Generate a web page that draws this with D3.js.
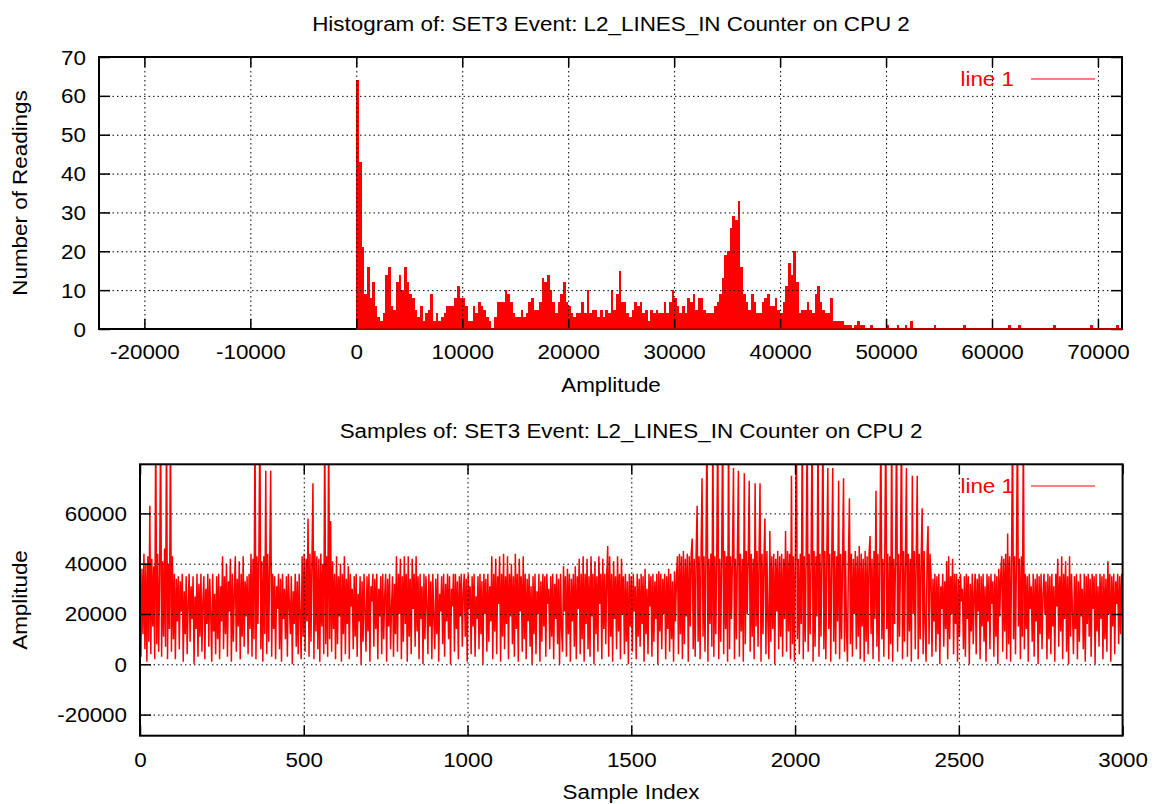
<!DOCTYPE html>
<html lang="en">
<head>
<meta charset="UTF-8">
<title>SET3 Event: L2_LINES_IN Counter on CPU 2</title>
<script src="https://cdnjs.cloudflare.com/ajax/libs/d3/7.8.5/d3.min.js"></script>
<style>
    body { margin: 0; background: #fff; }
    svg { display: block; font-family: "Liberation Sans", Arial, Helvetica, sans-serif; }
</style>
</head>
<body>
<div id="chart"></div>
<script>
// ---- histogram data: counts per 250-wide amplitude bin, starting at 0 ----
const histBinWidth = 250;
const histCounts = [
    64, 43, 21, 9, 16, 8, 12, 6, 3, 2,
    4, 14, 16, 6, 5, 12, 14, 10, 16, 12,
    9, 8, 5, 3, 6, 2, 4, 5, 9, 2,
    4, 2, 3, 4, 6, 6, 6, 8, 11, 8,
    8, 6, 2, 2, 6, 4, 7, 6, 5, 3,
    2, 0, 3, 7, 7, 7, 10, 9, 7, 4,
    3, 3, 5, 3, 4, 7, 8, 5, 5, 7,
    13, 12, 14, 10, 7, 4, 7, 9, 12, 7,
    6, 4, 3, 4, 4, 7, 4, 10, 4, 5,
    5, 3, 5, 3, 5, 4, 10, 5, 9, 15,
    7, 7, 4, 3, 5, 7, 6, 7, 4, 5,
    2, 5, 4, 5, 4, 4, 7, 4, 7, 10,
    8, 6, 4, 6, 4, 8, 7, 9, 5, 8,
    8, 5, 4, 4, 4, 6, 7, 9, 13, 19,
    20, 26, 29, 28, 33, 16, 9, 7, 5, 9,
    7, 4, 4, 7, 8, 9, 6, 6, 8, 5,
    4, 7, 11, 17, 14, 20, 12, 4, 5, 5,
    7, 5, 4, 9, 11, 7, 5, 4, 4, 8,
    2, 2, 2, 2, 1
];
// sparse bins in the tail (bin index, count)
const tailBins   = [185, 186, 188, 189, 190, 191, 194, 200, 204, 207, 209, 218, 229, 246, 250, 263, 277, 287];
const tailCounts = [1, 1, 1, 2, 1, 1, 1, 1, 1, 1, 2, 1, 1, 1, 1, 1, 1, 1];
const histLastBin = 288;

// ---- samples: one reading every 3 sample indices (0..2997), in thousands ----
const sampleStep = 3;
const sampleUnit = 1000;
const samplesK = [
    41, 3, 38, 12, 44, 6, 40, 1, 43, 9,
    63, 4, 42, 15, 39, 2, 98, 8, 44, 5,
    36, 98, 3, 41, 11, 46, 7, 98, 2, 40,
    14, 98, 5, 43, 10, 36, 2, 34, 17, 35,
    6, 33, 21, 36, 1, 29, 12, 35, 4, 24,
    36, 9, 31, 18, 35, 0, 27, 14, 36, 3,
    32, 11, 36, 5, 25, 35, 2, 30, 16, 36,
    7, 34, 20, 1, 36, 13, 28, 4, 35, 10,
    36, 2, 31, 17, 43, 6, 35, 12, 40, 3,
    33, 21, 42, 1, 36, 9, 29, 43, 5, 34,
    15, 41, 2, 36, 11, 43, 7, 33, 19, 35,
    4, 36, 14, 44, 3, 42, 10, 98, 2, 43,
    16, 44, 98, 6, 41, 1, 43, 12, 77, 4,
    44, 9, 40, 77, 3, 36, 14, 35, 2, 31,
    22, 36, 6, 34, 1, 36, 18, 30, 10, 35,
    3, 36, 24, 12, 35, 0, 29, 16, 36, 7,
    33, 4, 36, 20, 2, 43, 11, 44, 5, 42,
    17, 58, 3, 44, 9, 41, 72, 2, 45, 13,
    43, 6, 42, 1, 44, 15, 40, 4, 98, 8,
    43, 3, 98, 10, 57, 5, 41, 14, 36, 2,
    43, 8, 35, 19, 40, 1, 36, 12, 43, 4,
    34, 16, 39, 2, 36, 23, 30, 6, 35, 11,
    36, 3, 28, 17, 35, 0, 33, 9, 36, 21,
    5, 35, 13, 36, 1, 31, 25, 36, 7, 34,
    14, 36, 2, 30, 19, 35, 4, 36, 10, 27,
    36, 1, 34, 15, 36, 6, 23, 35, 3, 32,
    12, 43, 5, 36, 20, 42, 2, 35, 9, 43,
    16, 36, 1, 43, 11, 34, 4, 42, 22, 36,
    7, 43, 13, 35, 2, 36, 18, 31, 0, 36,
    10, 35, 24, 4, 36, 15, 33, 2, 36, 19,
    6, 34, 12, 36, 1, 28, 21, 35, 8, 36,
    3, 32, 17, 36, 10, 35, 0, 30, 23, 36,
    5, 36, 14, 33, 2, 35, 19, 36, 7, 29,
    36, 11, 34, 1, 36, 22, 31, 4, 35, 15,
    36, 3, 27, 18, 35, 6, 36, 12, 33, 0,
    36, 20, 34, 5, 36, 9, 31, 17, 43, 2,
    36, 13, 42, 4, 35, 24, 43, 1, 36, 11,
    44, 6, 35, 16, 43, 2, 36, 19, 40, 8,
    35, 3, 44, 14, 36, 1, 42, 21, 35, 5,
    43, 10, 36, 2, 34, 17, 36, 7, 31, 0,
    35, 12, 36, 4, 29, 20, 36, 1, 33, 9,
    36, 15, 35, 3, 36, 24, 30, 6, 35, 11,
    36, 2, 32, 18, 36, 8, 34, 0, 36, 14,
    5, 39, 21, 35, 3, 38, 12, 36, 1, 34,
    17, 36, 7, 39, 2, 35, 22, 42, 4, 36,
    10, 43, 1, 36, 16, 42, 6, 35, 3, 43,
    19, 36, 0, 41, 12, 35, 5, 43, 24, 36,
    2, 42, 14, 36, 8, 35, 47, 3, 43, 11,
    36, 1, 41, 18, 35, 6, 43, 13, 36, 2,
    42, 20, 35, 4, 36, 9, 33, 0, 36, 15,
    35, 5, 36, 21, 31, 2, 36, 11, 34, 7,
    36, 16, 35, 1, 38, 12, 30, 4, 36, 23,
    35, 3, 36, 9, 33, 18, 36, 0, 37, 13,
    36, 6, 34, 20, 36, 2, 35, 14, 38, 5,
    36, 10, 33, 1, 37, 17, 35, 43, 4, 44,
    12, 43, 2, 45, 8, 42, 19, 44, 1, 43,
    15, 44, 50, 6, 42, 3, 45, 63, 9, 43,
    2, 44, 74, 11, 43, 5, 45, 98, 1, 42,
    16, 44, 7, 98, 3, 43, 12, 45, 98, 2,
    42, 9, 44, 98, 4, 45, 14, 43, 1, 98,
    6, 43, 18, 44, 78, 2, 42, 10, 45, 77,
    3, 44, 13, 42, 1, 76, 8, 45, 20, 43,
    73, 5, 44, 11, 42, 2, 72, 15, 45, 7,
    43, 72, 1, 44, 12, 42, 58, 4, 45, 17,
    2, 53, 9, 43, 14, 44, 0, 42, 21, 45,
    6, 43, 11, 44, 3, 42, 18, 53, 5, 45,
    13, 44, 2, 75, 8, 43, 1, 45, 98, 10,
    42, 4, 44, 16, 98, 2, 43, 9, 45, 98,
    5, 44, 12, 42, 98, 1, 45, 7, 43, 19,
    98, 3, 44, 11, 42, 98, 6, 45, 2, 43,
    78, 14, 44, 1, 42, 78, 9, 45, 4, 43,
    17, 73, 2, 44, 10, 42, 74, 5, 45, 13,
    1, 43, 66, 8, 44, 3, 42, 20, 45, 6,
    43, 11, 47, 2, 44, 15, 42, 1, 45, 9,
    43, 4, 44, 51, 12, 42, 2, 45, 18, 69,
    7, 44, 1, 43, 98, 10, 42, 3, 45, 98,
    14, 44, 2, 43, 8, 98, 1, 42, 16, 45,
    98, 5, 44, 11, 43, 98, 2, 45, 9, 42,
    78, 3, 44, 13, 42, 1, 75, 20, 45, 6,
    43, 75, 2, 44, 10, 42, 62, 4, 45, 15,
    1, 43, 55, 8, 44, 36, 3, 34, 17, 36,
    5, 35, 12, 36, 0, 31, 22, 36, 7, 33,
    14, 41, 2, 43, 10, 35, 20, 42, 4, 36,
    16, 36, 1, 34, 11, 36, 25, 30, 6, 35,
    3, 36, 18, 35, 0, 32, 13, 36, 8, 29,
    36, 4, 34, 21, 36, 2, 35, 15, 36, 9,
    31, 1, 36, 17, 35, 6, 36, 24, 33, 3,
    36, 11, 35, 0, 38, 19, 36, 43, 5, 42,
    13, 44, 2, 52, 8, 43, 1, 42, 98, 10,
    43, 4, 44, 98, 15, 42, 2, 43, 11, 98,
    6, 36, 14, 35, 1, 36, 22, 31, 9, 36,
    3, 34, 17, 36, 0, 35, 12, 36, 6, 28,
    36, 20, 33, 2, 36, 10, 35, 4, 36, 15,
    31, 1, 36, 23, 42, 7, 35, 13, 43, 2,
    36, 18, 41, 5, 35, 0, 43, 11, 36, 21,
    4, 35, 14, 36, 2, 33, 9, 36, 19, 30,
    6, 36, 1, 35, 16, 36, 11, 34, 3, 36,
    22, 35, 0, 36, 13, 31, 7, 36, 18, 35,
    2, 36, 10, 34, 5, 41, 20, 36, 1, 35,
    15, 36, 4, 33, 24, 36, 8, 35, 12, 36
];

// ---- ticks and texts ----
const histXTicks = [-20000, -10000, 0, 10000, 20000, 30000, 40000, 50000, 60000, 70000];
const histYTicks = [0, 10, 20, 30, 40, 50, 60, 70];
const sampXTicks = [0, 500, 1000, 1500, 2000, 2500, 3000];
const sampYTicks = [-20000, 0, 20000, 40000, 60000];
const histTitle = "Histogram of: SET3 Event: L2_LINES_IN Counter on CPU 2";
const sampTitle = "Samples of: SET3 Event: L2_LINES_IN Counter on CPU 2";
const legendLabel = "line 1";

const RED = "#ff0000";
const FONT = 20;
const plain = d => String(d);   // gnuplot prints a plain hyphen for negatives

const svg = d3.select("#chart").append("svg")
    .attr("width", 1161)
    .attr("height", 804);

const histBox = { left: 99, right: 1122, top: 57, bottom: 329 };
const sampBox = { left: 140, right: 1122.6, top: 464.3, bottom: 735.7 };

const hx = d3.scaleLinear().domain([-24285, 72270]).range([histBox.left, histBox.right]);
const hy = d3.scaleLinear().domain([0, 70]).range([histBox.bottom, histBox.top]);
const sx = d3.scaleLinear().domain([0, 3000]).range([sampBox.left, sampBox.right]);
const sy = d3.scaleLinear().domain([-28390, 79520]).range([sampBox.bottom, sampBox.top]);

function grid(box, x, y, xTicks, yTicks) {
    const g = svg.append("g").attr("class", "grid");
    g.append("g")
        .attr("transform", `translate(0,${box.bottom})`)
        .call(d3.axisBottom(x).tickValues(xTicks.filter(t => x(t) > box.left + 1 && x(t) < box.right - 1))
            .tickSize(-(box.bottom - box.top)).tickFormat(""));
    g.append("g")
        .attr("transform", `translate(${box.left},0)`)
        .call(d3.axisLeft(y).tickValues(yTicks.filter(t => y(t) > box.top + 1 && y(t) < box.bottom - 1))
            .tickSize(-(box.right - box.left)).tickFormat(""));
    g.selectAll(".domain").remove();
    g.selectAll("line")
        .attr("stroke", "#000")
        .attr("stroke-width", 1)
        .attr("stroke-dasharray", "1.5,3");
}

function frame(box, x, y, xTicks, yTicks, labelBaseline) {
    const g = svg.append("g").attr("class", "frame");
    const bottom = g.append("g").attr("transform", `translate(0,${box.bottom})`)
        .call(d3.axisBottom(x).tickValues(xTicks).tickSize(-10).tickFormat(plain));
    bottom.selectAll("text").attr("y", labelBaseline - box.bottom).attr("dy", null);
    g.append("g").attr("transform", `translate(0,${box.top})`)
        .call(d3.axisTop(x).tickValues(xTicks).tickSize(-10).tickFormat(""));
    const left = g.append("g").attr("transform", `translate(${box.left},0)`)
        .call(d3.axisLeft(y).tickValues(yTicks).tickSize(-11).tickFormat(plain));
    left.selectAll("text").attr("x", -13).attr("dy", null).attr("y", 7);
    g.append("g").attr("transform", `translate(${box.right},0)`)
        .call(d3.axisRight(y).tickValues(yTicks).tickSize(-11).tickFormat(""));
    g.selectAll(".domain").remove();
    g.selectAll(".tick line").attr("stroke-width", 1.5);
    g.selectAll("g").attr("font-size", FONT).attr("font-family", null);
    g.selectAll("text").attr("fill", "#000");
    g.append("rect")
        .attr("x", box.left).attr("y", box.top)
        .attr("width", box.right - box.left).attr("height", box.bottom - box.top)
        .attr("fill", "none").attr("stroke", "#000").attr("stroke-width", 2);
}

function legend(yLine) {
    svg.append("text")
        .attr("x", 1014).attr("y", yLine + 7)
        .attr("text-anchor", "end")
        .attr("font-size", FONT)
        .attr("fill", RED)
        .text(legendLabel);
    svg.append("line")
        .attr("x1", 1031).attr("x2", 1095)
        .attr("y1", yLine).attr("y2", yLine)
        .attr("stroke", RED).attr("stroke-width", 1);
}

function label(text, x, y, rotate) {
    svg.append("text")
        .attr("transform", `translate(${x},${y})${rotate ? " rotate(-90)" : ""}`)
        .attr("text-anchor", "middle")
        .attr("font-size", FONT)
        .attr("fill", "#000")
        .text(text);
}

// ---- histogram panel ----
const bins = histCounts.map((c, i) => ({ bin: i, count: c }))
    .concat(tailBins.map((b, i) => ({ bin: b, count: tailCounts[i] })));

svg.append("g").attr("class", "bars")
    .selectAll("rect")
    .data(bins.filter(d => d.count > 0))
    .join("rect")
    .attr("x", d => hx(d.bin * histBinWidth))
    .attr("width", d => hx((d.bin + 1) * histBinWidth) - hx(d.bin * histBinWidth))
    .attr("y", d => hy(d.count))
    .attr("height", d => hy(0) - hy(d.count))
    .attr("fill", RED)
    .attr("shape-rendering", "crispEdges");

grid(histBox, hx, hy, histXTicks, histYTicks);
legend(79);
frame(histBox, hx, hy, histXTicks, histYTicks, 359);

// zero-count bins sit on the baseline
svg.append("line")
    .attr("x1", hx(0)).attr("x2", hx((histLastBin + 1) * histBinWidth))
    .attr("y1", hy(0)).attr("y2", hy(0))
    .attr("stroke", "#b00000").attr("stroke-width", 2);

label(histTitle, 611, 31, false);
label("Amplitude", 611, 392, false);
label("Number of Readings", 27, 193, true);

// ---- samples panel ----
svg.append("clipPath").attr("id", "sampClip")
    .append("rect")
    .attr("x", sampBox.left).attr("y", sampBox.top)
    .attr("width", sampBox.right - sampBox.left).attr("height", sampBox.bottom - sampBox.top);

legend(486);

svg.append("path")
    .datum(samplesK)
    .attr("clip-path", "url(#sampClip)")
    .attr("fill", "none")
    .attr("stroke", RED)
    .attr("stroke-width", 1.5)
    .attr("d", d3.line().x((d, i) => sx(i * sampleStep)).y(d => sy(d * sampleUnit)));

grid(sampBox, sx, sy, sampXTicks, sampYTicks);
frame(sampBox, sx, sy, sampXTicks, sampYTicks, 767);

label(sampTitle, 631, 438, false);
label("Sample Index", 631, 799, false);
label("Amplitude", 27, 600, true);

// the original font runs a little wider than Liberation Sans
svg.selectAll("text").each(function () {
    const w = this.getComputedTextLength();
    if (w > 0) d3.select(this).attr("textLength", w * 1.12).attr("lengthAdjust", "spacingAndGlyphs");
});
</script>
</body>
</html>
